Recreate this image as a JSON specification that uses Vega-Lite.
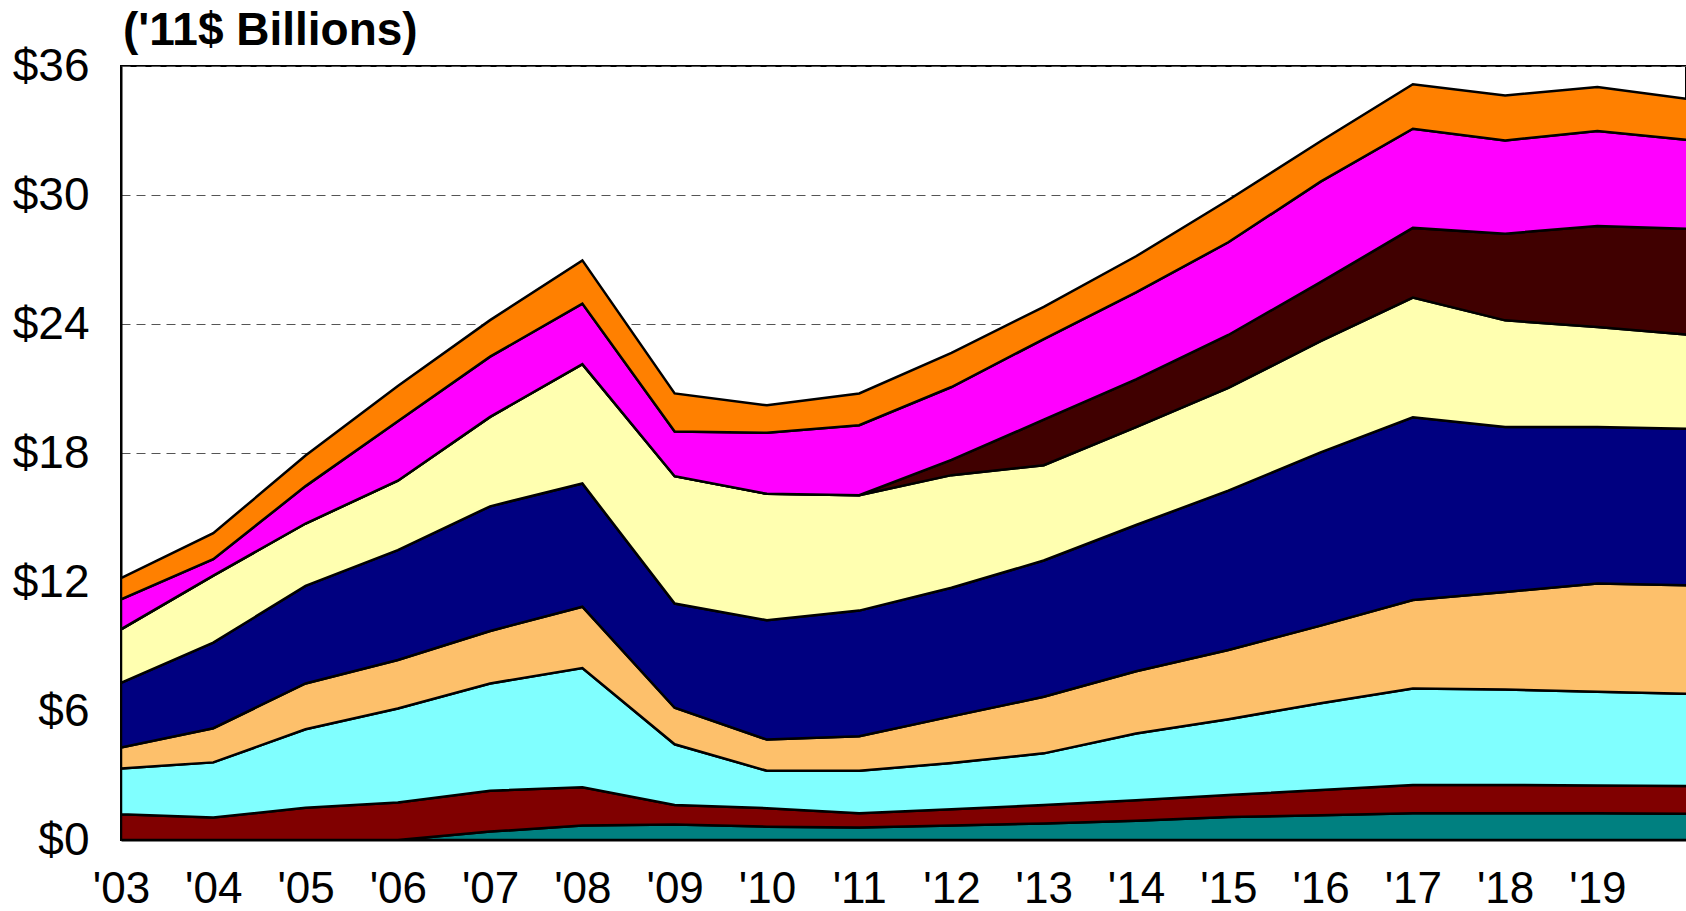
{
  "$schema": "https://vega.github.io/schema/vega-lite/v6.json",
  "autosize": {"type": "none"},
  "padding": {"left": 121, "top": 66, "right": 0, "bottom": 71},
  "width": 1565,
  "height": 774,
  "background": "white",
  "config": {
    "view": {"stroke": "black", "strokeWidth": 2},
    "font": "Liberation Sans"
  },
  "title": {
    "text": "('11$ Billions)",
    "anchor": "start",
    "frame": "group",
    "font": "Liberation Sans",
    "fontSize": 46,
    "fontWeight": "bold",
    "color": "black",
    "baseline": "alphabetic",
    "offset": 0,
    "dx": 2,
    "dy": 48
  },
  "data": {
    "values": [
      {"year": 2003, "s1": 0, "s2": 1.2, "s3": 2.13, "s4": 0.97, "s5": 3.01, "s6": 2.49, "s7": 0, "s8": 1.39, "s9": 0.99},
      {"year": 2004, "s1": 0, "s2": 1.05, "s3": 2.56, "s4": 1.59, "s5": 3.98, "s6": 3.12, "s7": 0, "s8": 0.76, "s9": 1.21},
      {"year": 2005, "s1": 0, "s2": 1.5, "s3": 3.65, "s4": 2.13, "s5": 4.54, "s6": 2.9, "s7": 0, "s8": 1.74, "s9": 1.42},
      {"year": 2006, "s1": 0, "s2": 1.74, "s3": 4.38, "s4": 2.25, "s5": 5.11, "s6": 3.23, "s7": 0, "s8": 2.77, "s9": 1.64},
      {"year": 2007, "s1": 0.39, "s2": 1.9, "s3": 4.99, "s4": 2.44, "s5": 5.8, "s6": 4.16, "s7": 0, "s8": 2.8, "s9": 1.7},
      {"year": 2008, "s1": 0.68, "s2": 1.77, "s3": 5.55, "s4": 2.85, "s5": 5.73, "s6": 5.55, "s7": 0, "s8": 2.82, "s9": 2.01},
      {"year": 2009, "s1": 0.72, "s2": 0.91, "s3": 2.82, "s4": 1.7, "s5": 4.85, "s6": 5.92, "s7": 0, "s8": 2.08, "s9": 1.77},
      {"year": 2010, "s1": 0.62, "s2": 0.86, "s3": 1.74, "s4": 1.45, "s5": 5.55, "s6": 5.88, "s7": 0, "s8": 2.84, "s9": 1.28},
      {"year": 2011, "s1": 0.58, "s2": 0.66, "s3": 1.98, "s4": 1.61, "s5": 5.84, "s6": 5.37, "s7": 0, "s8": 3.25, "s9": 1.48},
      {"year": 2012, "s1": 0.67, "s2": 0.76, "s3": 2.15, "s4": 2.17, "s5": 5.98, "s6": 5.24, "s7": 0.71, "s8": 3.39, "s9": 1.59},
      {"year": 2013, "s1": 0.77, "s2": 0.86, "s3": 2.4, "s4": 2.63, "s5": 6.34, "s6": 4.43, "s7": 2.12, "s8": 3.75, "s9": 1.5},
      {"year": 2014, "s1": 0.9, "s2": 0.95, "s3": 3.1, "s4": 2.9, "s5": 6.8, "s6": 4.55, "s7": 2.22, "s8": 4.05, "s9": 1.68},
      {"year": 2015, "s1": 1.07, "s2": 1.02, "s3": 3.53, "s4": 3.22, "s5": 7.41, "s6": 4.78, "s7": 2.46, "s8": 4.31, "s9": 1.97},
      {"year": 2016, "s1": 1.15, "s2": 1.17, "s3": 4.04, "s4": 3.61, "s5": 8.06, "s6": 5.17, "s7": 2.75, "s8": 4.67, "s9": 1.88},
      {"year": 2017, "s1": 1.24, "s2": 1.32, "s3": 4.49, "s4": 4.11, "s5": 8.5, "s6": 5.57, "s7": 3.24, "s8": 4.61, "s9": 2.07},
      {"year": 2018, "s1": 1.24, "s2": 1.32, "s3": 4.44, "s4": 4.54, "s5": 7.67, "s6": 4.96, "s7": 4.03, "s8": 4.34, "s9": 2.09},
      {"year": 2019, "s1": 1.24, "s2": 1.29, "s3": 4.37, "s4": 5.03, "s5": 7.28, "s6": 4.65, "s7": 4.7, "s8": 4.42, "s9": 2.04},
      {"year": 2020, "s1": 1.22, "s2": 1.29, "s3": 4.29, "s4": 5.05, "s5": 7.27, "s6": 4.38, "s7": 4.92, "s8": 4.13, "s9": 1.9}
    ]
  },
  "transform": [
    {"fold": ["s1", "s2", "s3", "s4", "s5", "s6", "s7", "s8", "s9"], "as": ["series", "value"]}
  ],
  "mark": {"type": "area", "stroke": "black", "strokeWidth": 2.5, "clip": true, "opacity": 1, "fillOpacity": 1, "strokeJoin": "miter"},
  "encoding": {
    "x": {
      "field": "year",
      "type": "quantitative",
      "scale": {"domain": [2003, 2019.96], "nice": false, "zero": false},
      "axis": {
        "title": null,
        "values": [2003, 2004, 2005, 2006, 2007, 2008, 2009, 2010, 2011, 2012, 2013, 2014, 2015, 2016, 2017, 2018, 2019],
        "labelExpr": "\"'\" + slice(toString(datum.value), 2)",
        "labelFont": "Liberation Sans",
        "labelFontSize": 44,
        "labelColor": "black",
        "labelPadding": 27,
        "labelFlush": false,
        "labelOverlap": false,
        "ticks": false,
        "grid": false,
        "domainColor": "black",
        "domainWidth": 2
      }
    },
    "y": {
      "field": "value",
      "type": "quantitative",
      "stack": "zero",
      "scale": {"domain": [0, 36], "nice": false},
      "axis": {
        "title": null,
        "values": [0, 6, 12, 18, 24, 30, 36],
        "labelExpr": "'$' + datum.value",
        "labelFont": "Liberation Sans",
        "labelFontSize": 46,
        "labelColor": "black",
        "labelPadding": 32,
        "labelFlush": false,
        "labelOverlap": false,
        "ticks": false,
        "grid": true,
        "gridColor": "#555555",
        "gridDash": [9, 6],
        "gridWidth": 1,
        "domainColor": "black",
        "domainWidth": 2
      }
    },
    "color": {
      "field": "series",
      "type": "nominal",
      "legend": null,
      "scale": {
        "domain": ["s1", "s2", "s3", "s4", "s5", "s6", "s7", "s8", "s9"],
        "range": ["#008080", "#800000", "#80FFFF", "#FDC06B", "#000080", "#FFFFB0", "#400000", "#FF00FF", "#FF8000"]
      }
    },
    "order": {"field": "series", "type": "ordinal", "sort": "ascending"}
  }
}
